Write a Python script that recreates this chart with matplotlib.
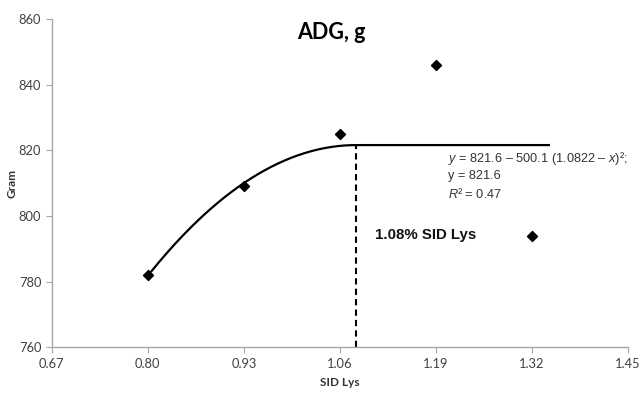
import numpy as np
import matplotlib.pyplot as plt

plt.rcParams["mathtext.fontset"] = "custom"
plt.rcParams["mathtext.it"] = "Liberation Sans:italic"
plt.rcParams["mathtext.rm"] = "Liberation Sans"

# observed ADG values
sid_lys = [0.80, 0.93, 1.06, 1.19, 1.32]
adg = [782, 809, 825, 846, 794]

# quadratic-plateau fit (from the printed equation)
fit_plateau = 821.6
fit_coef = 500.1
fit_break = 1.0822
fit_x_start = 0.805
fit_x_end = 1.343

x_ticks = [0.67, 0.80, 0.93, 1.06, 1.19, 1.32, 1.45]
y_ticks = [760, 780, 800, 820, 840, 860]

fig = plt.figure(figsize=(6.41, 3.93), dpi=100)
ax = fig.add_axes([0.0807, 0.1163, 0.899, 0.8353])

xs = np.linspace(fit_x_start, fit_x_end, 300)
ys = np.where(xs < fit_break, fit_plateau - fit_coef * (fit_break - xs) ** 2, fit_plateau)
ax.plot(xs, ys, color="black", lw=1.6)

ax.plot([fit_break, fit_break], [760, fit_plateau], color="black", lw=1.5, ls=(0, (3, 2)))

ax.scatter(sid_lys, adg, marker="D", s=26, color="black", zorder=3)

ax.set_xlim(0.67, 1.45)
ax.set_ylim(760, 860)
ax.set_xticks(x_ticks)
ax.set_xticklabels([f"{v:.2f}" for v in x_ticks])
ax.set_yticks(y_ticks)

for side in ["top", "right"]:
    ax.spines[side].set_visible(False)
for side in ["left", "bottom"]:
    ax.spines[side].set_color("#a6a6a6")
    ax.spines[side].set_linewidth(1.0)
ax.tick_params(axis="both", direction="out", length=4, color="#a6a6a6",
               labelsize=9.3, labelcolor="#404040")
for lab in ax.get_xticklabels() + ax.get_yticklabels():
    lab.set_family("Lato")

ax.set_xlabel("SID Lys", fontsize=8.5, fontweight="bold", family="Lato", color="#333333", labelpad=5)
ax.set_ylabel("Gram", fontsize=8.5, fontweight="bold", family="Lato", color="#333333", labelpad=1)

ax.text(1.049, 855.8, "ADG, g", fontsize=15.5, fontweight="bold", family="Lato",
        ha="center", va="center", color="black")

ax.text(1.108, 794.3, "1.08% SID Lys", fontsize=10.8, fontweight="bold",
        family="Liberation Sans", ha="left", va="center", color="#111111")

eq = r"$y$ = 821.6 – 500.1 (1.0822 – $x$)²;" + "\ny = 821.6\n" + r"$R$² = 0.47"
ax.text(1.206, 820.2, eq, fontsize=9.2, family="Liberation Sans", ha="left", va="top",
        color="#333333", linespacing=1.42)

fig.savefig("out.png", dpi=100)
